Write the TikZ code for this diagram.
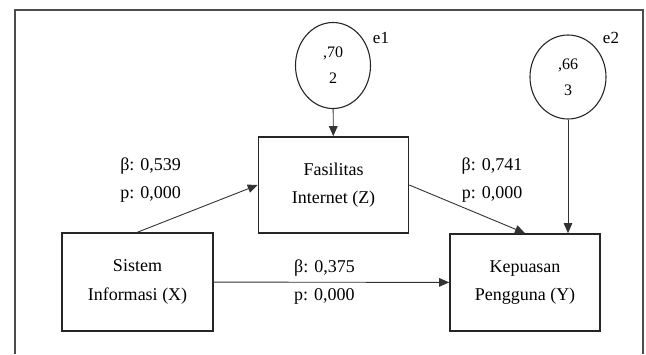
\documentclass[tikz,border=0pt]{standalone}
\usepackage{fontspec}
\setmainfont{Liberation Serif}
\usetikzlibrary{shapes.geometric, arrows.meta, positioning}
\tikzset{
  varbox/.style={rectangle, draw=black!85, line width=1.6pt, minimum width=150pt, minimum height=97pt,
    align=center, font=\fontsize{18}{28.5}\selectfont},
  errcirc/.style={ellipse, draw=black!85, line width=1.1pt, inner sep=0pt,
    align=center, font=\fontsize{16}{26}\selectfont},
  elab/.style={font=\fontsize{17}{20}\selectfont},
  coef/.style={align=center, font=\fontsize{18}{28.5}\selectfont},
  arr/.style={-{Triangle[length=10pt, width=8.5pt]}, line width=0.9pt, draw=black!80},
  frame/.style={line width=2pt, draw=black!70},
}

\begin{document}
\begin{tikzpicture}[x=1pt, y=-1pt]
  \useasboundingbox (0,0) rectangle (646,354);
  \draw[frame] (15,354) -- (15,10) -- (643,10) -- (643,354);

  \node[varbox, minimum width=151pt, minimum height=98pt] (sistem) at (137.5,282) {Sistem\\Informasi (X)};
  \node[varbox, minimum height=96pt] (fasilitas) at (333.5,185) {Fasilitas\\Internet (Z)};
  \node[varbox] (kepuasan) at (525,282.5) {Kepuasan\\Pengguna (Y)};

  \node[errcirc, minimum width=75pt, minimum height=86pt] (e1) at (333,65.5) {,70\\2};
  \node[errcirc, minimum width=76pt, minimum height=84pt] (e2) at (568,77) {,66\\3};
  \node[elab] at (381,37.5) {e1};
  \node[elab] at (611,38) {e2};

  \node[coef] (b1) at (150.6,180) {β: 0,539\\p: 0,000};
  \node[coef] (b2) at (492,180) {β: 0,741\\p: 0,000};

  \draw[arr] (e1) -- (fasilitas);
  \draw[arr] (e2.south) -- (e2.south |- kepuasan.north);
  \draw[arr] (sistem.north) -- (fasilitas.west);
  \draw[arr] (fasilitas.east) -- (kepuasan.north);
  \draw[arr] (sistem) -- node[coef, pos=0.47]{β: 0,375\\p: 0,000} (kepuasan);
\end{tikzpicture}
\end{document}
